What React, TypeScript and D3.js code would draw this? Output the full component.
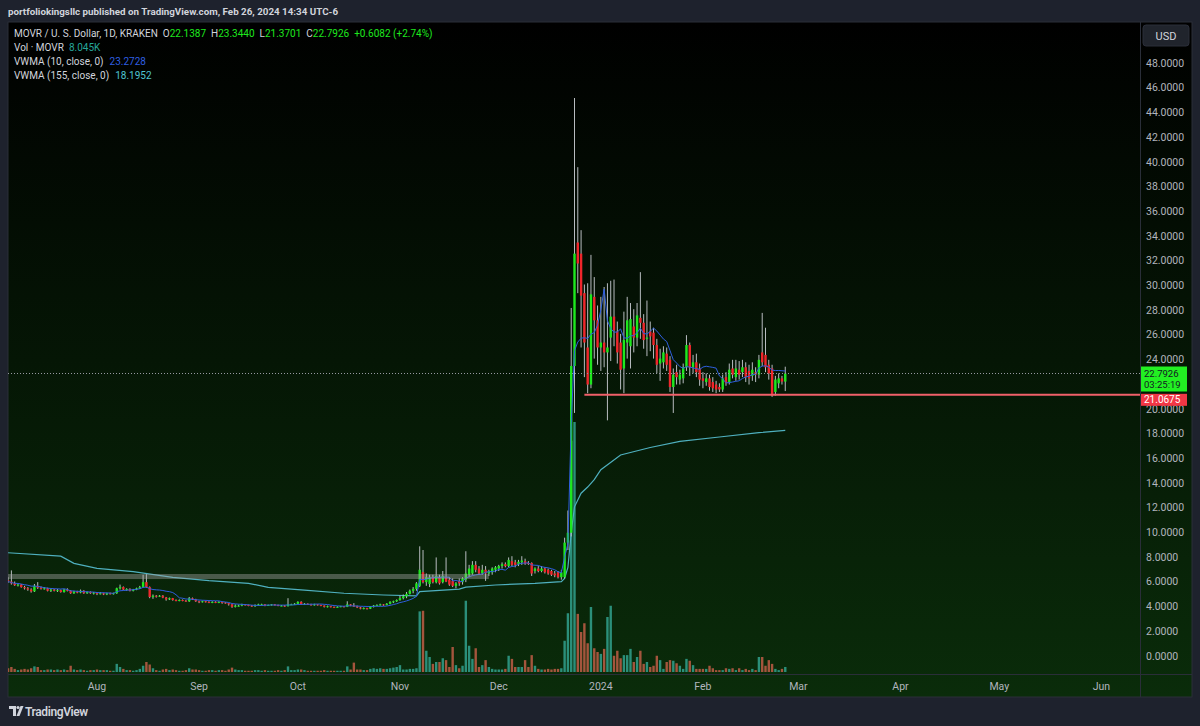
import React from 'react';
import * as d3 from 'd3';

// [open, high, low, close, volume (K MOVR)] – daily, starting 2023-07-05
type Bar = [number, number, number, number, number];

const FIRST_DAY = '2023-07-05';

const julBars: Bar[] = [
  [6.05, 6.3, 5.85, 5.95, 6], [5.95, 6.85, 5.7, 5.8, 8], [5.8, 5.95, 5.6, 5.65, 5], [5.65, 5.8, 5.55, 5.7, 3],
  [5.7, 5.75, 5.45, 5.5, 4], [5.5, 5.6, 5.3, 5.4, 5], [5.4, 5.5, 5.2, 5.3, 4], [5.3, 5.4, 5.05, 5.15, 6],
  [5.15, 5.75, 5.1, 5.6, 9], [5.6, 5.9, 5.35, 5.45, 8], [5.45, 5.55, 5.3, 5.35, 3], [5.35, 5.5, 5.3, 5.4, 3],
  [5.4, 5.45, 5.15, 5.2, 4], [5.2, 5.4, 5.1, 5.3, 4], [5.3, 5.35, 5.15, 5.2, 3], [5.2, 5.35, 5.1, 5.25, 4],
  [5.25, 5.3, 5.05, 5.1, 3], [5.1, 5.35, 5.05, 5.3, 4], [5.3, 5.4, 5.15, 5.2, 3], [5.2, 5.25, 4.95, 5.0, 10],
  [5.0, 5.2, 4.95, 5.15, 4], [5.15, 5.2, 5.0, 5.05, 3], [5.05, 5.3, 5.0, 5.2, 4], [5.2, 5.25, 4.95, 5.0, 3],
  [5.0, 5.15, 4.95, 5.1, 2], [5.1, 5.15, 4.95, 5.0, 3], [5.0, 5.1, 4.9, 5.05, 3],
];

const augBars: Bar[] = [
  [5.05, 5.1, 4.85, 4.95, 4], [4.95, 5.1, 4.9, 5.0, 3], [5.0, 5.05, 4.85, 4.9, 3], [4.9, 5.05, 4.85, 5.0, 3],
  [5.0, 5.05, 4.9, 4.95, 2], [4.95, 5.05, 4.9, 5.0, 2], [5.0, 5.45, 4.95, 5.4, 13], [5.4, 5.7, 5.3, 5.5, 8],
  [5.5, 5.55, 5.25, 5.3, 5], [5.3, 5.4, 5.2, 5.35, 3], [5.35, 5.4, 5.15, 5.2, 3], [5.2, 5.35, 5.15, 5.3, 2],
  [5.3, 5.45, 5.25, 5.4, 3], [5.4, 5.6, 5.35, 5.5, 5], [5.5, 6.5, 5.45, 5.9, 10], [5.9, 6.55, 5.45, 5.5, 16],
  [5.5, 5.55, 4.6, 4.7, 12], [4.7, 4.9, 4.55, 4.8, 6], [4.8, 4.85, 4.65, 4.75, 3], [4.75, 4.85, 4.7, 4.8, 2],
  [4.8, 4.85, 4.6, 4.65, 4], [4.65, 4.7, 4.4, 4.5, 5], [4.5, 4.65, 4.45, 4.6, 3], [4.6, 4.62, 4.4, 4.45, 4],
  [4.45, 4.5, 4.35, 4.4, 3], [4.4, 4.5, 4.35, 4.45, 2], [4.45, 4.5, 4.35, 4.4, 2], [4.4, 4.45, 4.3, 4.35, 3],
  [4.35, 4.7, 4.3, 4.6, 6], [4.6, 4.65, 4.45, 4.5, 4], [4.5, 4.55, 4.3, 4.35, 4],
];

const sepBars: Bar[] = [
  [4.35, 4.4, 4.2, 4.3, 3], [4.3, 4.4, 4.25, 4.35, 2], [4.35, 4.4, 4.25, 4.3, 2], [4.3, 4.35, 4.2, 4.25, 3],
  [4.25, 4.35, 4.2, 4.3, 3], [4.3, 4.35, 4.2, 4.25, 2], [4.25, 4.35, 4.2, 4.3, 3], [4.3, 4.32, 4.15, 4.25, 3],
  [4.25, 4.28, 4.15, 4.2, 2], [4.2, 4.22, 4.0, 4.1, 4], [4.1, 4.12, 3.82, 3.9, 7], [3.9, 4.1, 3.85, 4.0, 4],
  [4.0, 4.08, 3.92, 4.0, 3], [4.0, 4.15, 3.95, 4.1, 3], [4.1, 4.12, 4.0, 4.05, 2], [4.05, 4.08, 3.95, 4.0, 2],
  [4.0, 4.05, 3.9, 3.95, 2], [3.95, 4.1, 3.9, 4.05, 3], [4.05, 4.15, 4.0, 4.1, 3], [4.1, 4.15, 4.02, 4.1, 2],
  [4.1, 4.12, 3.95, 4.0, 3], [4.0, 4.08, 3.97, 4.05, 2], [4.05, 4.12, 4.0, 4.1, 2], [4.1, 4.12, 4.0, 4.05, 2],
  [4.05, 4.08, 3.95, 4.0, 3], [4.0, 4.05, 3.95, 4.0, 2], [4.0, 4.05, 3.9, 3.95, 3], [3.95, 4.6, 3.93, 4.1, 9],
  [4.1, 4.15, 4.05, 4.1, 3], [4.1, 4.2, 4.05, 4.15, 3],
];

const octBars: Bar[] = [
  [4.15, 4.35, 4.1, 4.3, 4], [4.3, 4.35, 4.05, 4.1, 4], [4.1, 4.2, 4.05, 4.15, 3], [4.15, 4.18, 4.05, 4.1, 2],
  [4.1, 4.15, 4.0, 4.05, 2], [4.05, 4.15, 4.0, 4.1, 2], [4.1, 4.12, 4.0, 4.05, 2], [4.05, 4.08, 3.95, 4.0, 2],
  [4.0, 4.02, 3.85, 3.9, 3], [3.9, 4.0, 3.85, 3.95, 2], [3.95, 3.97, 3.85, 3.9, 2], [3.9, 3.92, 3.8, 3.85, 2],
  [3.85, 3.95, 3.82, 3.9, 2], [3.9, 3.98, 3.87, 3.95, 2], [3.95, 3.97, 3.85, 3.9, 2], [3.9, 4.35, 3.88, 4.1, 9],
  [4.1, 4.12, 3.95, 4.0, 4], [4.0, 4.2, 3.9, 3.95, 15], [3.95, 4.0, 3.8, 3.85, 4], [3.85, 3.9, 3.7, 3.75, 4],
  [3.75, 3.85, 3.7, 3.8, 3], [3.8, 3.82, 3.68, 3.75, 3], [3.75, 3.95, 3.72, 3.9, 5], [3.9, 4.05, 3.85, 4.0, 6],
  [4.0, 4.1, 3.95, 4.05, 5], [4.05, 4.15, 4.0, 4.1, 6], [4.1, 4.12, 3.98, 4.05, 5], [4.05, 4.2, 4.02, 4.15, 5],
  [4.15, 4.35, 4.1, 4.3, 6], [4.3, 4.4, 4.2, 4.35, 7], [4.35, 4.5, 4.3, 4.45, 8],
];

const novBars: Bar[] = [
  [4.45, 4.8, 4.4, 4.6, 11], [4.6, 4.9, 4.5, 4.75, 4], [4.75, 5.1, 4.6, 4.95, 4], [4.95, 5.3, 4.9, 5.2, 5],
  [5.2, 5.5, 5.0, 5.35, 5], [5.35, 5.9, 5.2, 5.8, 6], [5.6, 8.8, 5.5, 6.9, 97], [6.7, 8.5, 5.8, 5.9, 98],
  [5.9, 6.6, 5.6, 6.3, 34], [5.75, 6.5, 5.5, 6.3, 24], [6.3, 6.5, 5.8, 5.9, 13], [5.9, 7.9, 5.8, 6.4, 16],
  [6.3, 6.5, 5.7, 5.8, 16], [5.9, 6.8, 5.8, 6.4, 22], [6.3, 7.9, 5.9, 5.95, 19], [6.1, 6.3, 5.6, 5.7, 8],
  [6.0, 6.2, 5.5, 5.6, 40], [5.6, 5.9, 5.4, 5.8, 11], [6.0, 6.2, 5.6, 5.8, 6], [5.9, 6.3, 5.7, 6.2, 10],
  [6.1, 8.4, 5.9, 6.6, 114], [6.5, 7.3, 6.3, 7.0, 42], [6.6, 7.6, 6.5, 7.3, 21], [7.3, 7.6, 6.7, 6.9, 38],
  [7.0, 7.2, 6.5, 6.6, 8], [6.6, 7.3, 6.5, 6.9, 11], [6.9, 7.2, 6.0, 6.6, 19], [6.6, 6.9, 6.4, 6.8, 8],
  [6.7, 7.1, 6.5, 7.0, 5], [6.9, 7.2, 6.7, 7.1, 4],
];

const decBars: Bar[] = [
  [7.0, 7.3, 6.8, 7.2, 4], [7.2, 7.5, 7.0, 7.35, 4], [7.35, 7.5, 7.1, 7.2, 5], [7.2, 7.9, 7.1, 7.7, 26],
  [7.6, 8.0, 7.2, 7.3, 21], [7.5, 7.7, 7.1, 7.3, 8], [7.35, 7.7, 7.2, 7.55, 8], [7.5, 8.0, 7.3, 7.65, 8],
  [7.6, 7.8, 7.3, 7.4, 19], [7.45, 7.6, 7.3, 7.4, 8], [7.45, 7.5, 6.4, 6.6, 27], [6.8, 7.1, 6.6, 7.0, 10],
  [7.0, 7.2, 6.7, 6.8, 5], [6.8, 7.2, 6.7, 7.0, 4], [7.0, 7.1, 6.6, 6.7, 4], [6.9, 7.0, 6.5, 6.6, 5],
  [6.8, 6.9, 6.4, 6.5, 4], [6.6, 6.8, 6.3, 6.45, 5], [6.7, 6.8, 6.2, 6.3, 5], [6.3, 6.9, 6.1, 6.7, 6],
  [6.3, 9.5, 6.2, 9.1, 50], [9.1, 11.7, 8.5, 9.9, 94], [9.9, 28.1, 9.6, 23.4, 370], [23.4, 45.1, 19.6, 32.5, 400],
  [33.4, 39.5, 29.3, 31.7, 93], [32.5, 34.4, 24.9, 29.1, 64], [29.3, 30.0, 22.5, 25.3, 78], [24.9, 30.1, 21.2, 21.9, 46],
  [21.9, 32.4, 21.6, 29.2, 104], [29.0, 30.6, 24.0, 27.1, 38], [27.1, 28.3, 23.5, 24.9, 32],
];

const janBars: Bar[] = [
  [24.9, 29.0, 23.0, 25.3, 29], [25.3, 29.8, 23.3, 24.5, 37], [24.5, 30.1, 19.0, 24.9, 88], [25.7, 30.3, 23.8, 27.4, 106],
  [27.4, 30.4, 25.0, 26.3, 26], [26.2, 27.0, 23.6, 24.5, 34], [25.3, 26.0, 21.5, 23.1, 22], [23.2, 27.8, 21.2, 25.5, 27],
  [25.3, 29.0, 24.0, 27.1, 27], [25.0, 28.5, 23.2, 27.2, 37], [26.6, 28.0, 24.5, 25.7, 16], [25.7, 28.5, 25.0, 27.5, 24],
  [27.3, 31.0, 25.6, 26.9, 34], [26.9, 27.6, 24.8, 25.5, 13], [25.6, 28.7, 24.2, 25.7, 16], [26.2, 27.0, 24.6, 25.8, 8],
  [26.1, 26.5, 24.0, 25.1, 10], [25.1, 25.6, 22.8, 23.5, 26], [23.6, 24.8, 22.2, 24.0, 19], [23.7, 25.0, 23.2, 24.5, 5],
  [24.4, 24.9, 23.0, 23.5, 16], [23.9, 24.2, 21.3, 21.7, 19], [21.7, 23.2, 19.6, 22.7, 18], [22.9, 23.5, 21.9, 22.5, 14],
  [22.3, 23.1, 21.9, 22.7, 10], [22.4, 23.6, 22.0, 23.3, 5], [23.3, 25.9, 23.0, 25.1, 21], [25.1, 25.3, 22.6, 23.3, 18],
  [23.3, 24.3, 22.8, 23.7, 11], [23.7, 24.4, 22.5, 22.9, 5], [23.2, 23.6, 21.8, 22.3, 5],
];

const febBars: Bar[] = [
  [22.4, 22.9, 21.6, 22.2, 5], [22.1, 22.8, 21.8, 22.4, 5], [22.4, 22.7, 21.4, 21.7, 10], [22.1, 22.5, 21.3, 21.6, 6],
  [21.9, 22.2, 21.2, 21.5, 3], [21.7, 22.0, 21.3, 21.5, 3], [21.5, 22.7, 21.3, 22.4, 3], [22.5, 22.9, 21.8, 22.0, 6],
  [22.1, 23.6, 21.9, 23.1, 5], [23.2, 23.9, 22.4, 22.7, 6], [22.5, 23.9, 22.2, 23.2, 3], [23.1, 23.8, 22.3, 22.7, 6],
  [22.9, 23.9, 22.5, 23.3, 3], [23.3, 23.7, 22.1, 22.5, 5], [23.0, 23.5, 21.9, 22.4, 3], [22.6, 23.7, 22.2, 23.1, 5],
  [22.9, 23.3, 22.1, 22.7, 3], [22.7, 24.3, 22.4, 23.9, 24], [24.5, 27.7, 23.4, 23.7, 24], [24.3, 26.5, 22.9, 23.3, 10],
  [23.5, 23.9, 22.3, 22.8, 19], [23.2, 23.5, 20.9, 21.0, 13], [21.3, 22.6, 21.0, 22.3, 5], [22.0, 22.8, 21.6, 22.4, 3],
  [22.4, 22.6, 21.9, 22.14, 5], [22.1387, 23.344, 21.3701, 22.7926, 8.045],
];

// VWMA(155) (its window reaches before the visible data)
const vwma155Points: [string, number][] = [
  ['2023-07-05', 8.28], ['2023-07-21', 8.0], ['2023-07-25', 7.42], ['2023-08-01', 7.02], ['2023-08-12', 6.75],
  ['2023-08-24', 6.29], ['2023-09-04', 6.02], ['2023-09-16', 5.8], ['2023-09-22', 5.48], ['2023-10-03', 5.26],
  ['2023-10-15', 5.0], ['2023-10-27', 4.86], ['2023-11-06', 4.78], ['2023-11-07', 5.13], ['2023-11-19', 5.34],
  ['2023-11-21', 5.5], ['2023-11-30', 5.67], ['2023-12-12', 5.8], ['2023-12-20', 5.94], ['2023-12-21', 6.2],
  ['2023-12-22', 7.1], ['2023-12-23', 9.9], ['2023-12-24', 12.0], ['2023-12-26', 13.1], ['2023-12-28', 13.6],
  ['2023-12-30', 14.2], ['2024-01-01', 15.0], ['2024-01-07', 16.2], ['2024-01-16', 16.8], ['2024-01-25', 17.3],
  ['2024-02-06', 17.65], ['2024-02-18', 18.0], ['2024-02-26', 18.1952],
];

const priceTicks = [0, 2, 4, 6, 8, 10, 12, 14, 16, 18, 20, 22, 24, 26, 28, 30, 32, 34, 36, 38, 40, 42, 44, 46, 48];
const timeTicks: [string, string][] = [
  ['Aug', '2023-08-01'], ['Sep', '2023-09-01'], ['Oct', '2023-10-01'], ['Nov', '2023-11-01'], ['Dec', '2023-12-01'],
  ['2024', '2024-01-01'], ['Feb', '2024-02-01'], ['Mar', '2024-03-01'], ['Apr', '2024-04-01'], ['May', '2024-05-01'],
  ['Jun', '2024-06-01'],
];

const LAST_PRICE = 22.7926;
const COUNTDOWN = '03:25:19';
const SUPPORT = { from: '2023-12-27', price: 21.0675 };
const BAND = { from: '2023-06-20', to: '2023-11-28', low: 6.15, high: 6.56 };

const FONT = "Roboto, 'Liberation Sans', sans-serif";
const DAY = 86400000;
const pd = (s: string) => new Date(s + 'T00:00:00Z');

const allBars: Bar[] = [...julBars, ...augBars, ...sepBars, ...octBars, ...novBars, ...decBars, ...janBars, ...febBars];
const candles = allBars.map((b, i) => ({
  date: new Date(pd(FIRST_DAY).getTime() + i * DAY),
  o: b[0], h: b[1], l: b[2], c: b[3], v: b[4],
}));

// VWMA(10) from the candles
const vwma10 = candles.map((d, i) => {
  const win = candles.slice(Math.max(0, i - 9), i + 1);
  const sv = d3.sum(win, (w) => w.v);
  return { date: d.date, value: d3.sum(win, (w) => w.c * w.v) / sv };
});

// layout
const PANEL = { left: 8, top: 22, right: 1192, bottom: 697 };
const PLOT_RIGHT = 1140;
const PLOT_BOTTOM = 674;

const x = d3.scaleUtc().domain([pd('2023-08-01'), pd('2024-06-01')]).range([97, 1101.4]);
const y = d3.scaleLinear().domain([0, 48]).range([655, 62.2]);
const yVol = d3.scaleLinear().domain([0, 400]).range([672, 422]);

const UP = '#1ee81e';
const DOWN = '#f0262b';
const WICK = '#b8bcc0';
const VOL_UP = '#2b8f7a';
const VOL_DOWN = '#a4553d';

export default function App() {
  const line = d3.line<{ date: Date; value: number }>().x((d) => x(d.date)).y((d) => y(d.value));
  const v155 = vwma155Points.map(([s, v]) => ({ date: pd(s), value: v }));
  const bw = 2.4;
  const lastY = y(LAST_PRICE);
  const supY = y(SUPPORT.price);
  const lastBox = { top: lastY - 7, bottom: lastY + 18 };
  // ticks hidden behind the last-price label (as on the price scale)
  const shownTicks = priceTicks.filter((t) => y(t) < lastBox.top - 4 || y(t) > lastBox.bottom + 4);

  return (
    <svg width={1200} height={726} style={{ position: 'absolute', left: 0, top: 0, fontFamily: FONT }}>
      <defs>
        <linearGradient id="bg" x1="0" y1="0" x2="0" y2="1">
          <stop offset="0" stopColor="#000000" />
          <stop offset="1" stopColor="#0a2c0a" />
        </linearGradient>
        <clipPath id="plot">
          <rect x={PANEL.left} y={PANEL.top} width={PLOT_RIGHT - PANEL.left} height={PLOT_BOTTOM - PANEL.top} />
        </clipPath>
      </defs>
      <rect x={0} y={0} width={1200} height={726} fill="#1e222d" />
      <text x={8} y={15} fill="#d1d4dc" fontSize={9.8} fontWeight={700}>
        portfoliokingsllc published on TradingView.com, Feb 26, 2024 14:34 UTC-6
      </text>
      <rect x={PANEL.left} y={PANEL.top} width={PANEL.right - PANEL.left} height={PANEL.bottom - PANEL.top}
        fill="url(#bg)" stroke="#2a2e39" />
      <line x1={PLOT_RIGHT + 0.5} x2={PLOT_RIGHT + 0.5} y1={PANEL.top} y2={PANEL.bottom} stroke="#2a2e39" />
      <line x1={PANEL.left} x2={PANEL.right} y1={PLOT_BOTTOM + 0.5} y2={PLOT_BOTTOM + 0.5} stroke="#2a2e39" />

      <g clipPath="url(#plot)">
        {/* volume */}
        {candles.map((d, i) => (
          <rect key={'v' + i} x={x(d.date) - bw / 2} width={bw} y={yVol(d.v)} height={yVol(0) - yVol(d.v)}
            fill={d.c >= d.o ? VOL_UP : VOL_DOWN} />
        ))}
        {/* long VWMA */}
        <path d={line(v155) || ''} fill="none" stroke="#4fb0bf" strokeWidth={1.2} />
        {/* candles */}
        {candles.map((d, i) => {
          const cx = x(d.date);
          const top = y(Math.max(d.o, d.c));
          const bot = y(Math.min(d.o, d.c));
          return (
            <g key={'c' + i}>
              <line x1={cx} x2={cx} y1={y(d.h)} y2={y(d.l)} stroke={WICK} strokeWidth={1} />
              <rect x={cx - bw / 2} width={bw} y={top} height={Math.max(1, bot - top)} fill={d.c >= d.o ? UP : DOWN} />
            </g>
          );
        })}
        <path d={line(vwma10) || ''} fill="none" stroke="#2f5fe0" strokeWidth={1} />
        {/* drawing: band */}
        <rect x={x(pd(BAND.from))} width={x(pd(BAND.to)) - x(pd(BAND.from))} y={y(BAND.high)}
          height={y(BAND.low) - y(BAND.high)} fill="#a8a8a8" opacity={0.42} />
        {/* last price line */}
        <line x1={PANEL.left} x2={PLOT_RIGHT} y1={lastY} y2={lastY} stroke="#9598a1" strokeDasharray="1 2" />
        {/* support */}
        <line x1={x(pd(SUPPORT.from))} x2={PLOT_RIGHT} y1={supY} y2={supY} stroke="#f0606a" strokeWidth={2} />
      </g>

      {/* legend */}
      <g fontSize={10} fill="#d1d4dc">
        <text x={14} y={37}>
          MOVR / U. S. Dollar, 1D, KRAKEN
          <tspan dx={5}>O</tspan><tspan fill={UP}>22.1387</tspan>
          <tspan dx={5}>H</tspan><tspan fill={UP}>23.3440</tspan>
          <tspan dx={5}>L</tspan><tspan fill={UP}>21.3701</tspan>
          <tspan dx={5}>C</tspan><tspan fill={UP}>22.7926</tspan>
          <tspan dx={5} fill={UP}>+0.6082 (+2.74%)</tspan>
        </text>
        <text x={14} y={51}>
          Vol · MOVR<tspan dx={5} fill="#26a69a">8.045K</tspan>
        </text>
        <text x={14} y={65}>
          VWMA (10, close, 0)<tspan dx={6} fill="#2f5fe0">23.2728</tspan>
        </text>
        <text x={14} y={79}>
          VWMA (155, close, 0)<tspan dx={6} fill="#4fc3d0">18.1952</tspan>
        </text>
      </g>

      {/* price axis */}
      <rect x={1143} y={25} width={46} height={21} rx={3} fill="#20242c" stroke="#2a2e39" />
      <text x={1166} y={39.5} fill="#d1d4dc" fontSize={11} textAnchor="middle">USD</text>
      <g fontSize={10.5} fill="#b2b5be">
        {shownTicks.map((t) => (
          <text key={t} x={1146} y={y(t) + 4.5}>{t.toFixed(4)}</text>
        ))}
      </g>
      <rect x={1141} y={lastBox.top} width={46} height={lastBox.bottom - lastBox.top} fill="#22f022" />
      <text x={1144} y={lastY + 3} fontSize={9.5} fill="#131722">{LAST_PRICE.toFixed(4)}</text>
      <text x={1144} y={lastY + 14.5} fontSize={9.5} fill="#131722">{COUNTDOWN}</text>
      <rect x={1141} y={supY - 1} width={46} height={12} fill="#f23645" />
      <text x={1144} y={supY + 8.5} fontSize={10} fill="#ffffff">{SUPPORT.price.toFixed(4)}</text>

      {/* time axis */}
      <g fontSize={10.5} fill="#b2b5be" textAnchor="middle">
        {timeTicks.map(([label, s]) => (
          <text key={label} x={x(pd(s))} y={690}>{label}</text>
        ))}
      </g>

      {/* footer logo */}
      <g fill="#d1d4dc">
        <path d="M9,706 h7 v10 h-3 v-7 h-4 z" />
        <circle cx={18} cy={707.5} r={1.6} />
        <path d="M20.5,706 h3 l-4,10 h-3 z" />
        <text x={25} y={716} fontSize={12} fontWeight={600} letterSpacing={-0.4}>TradingView</text>
      </g>
    </svg>
  );
}
